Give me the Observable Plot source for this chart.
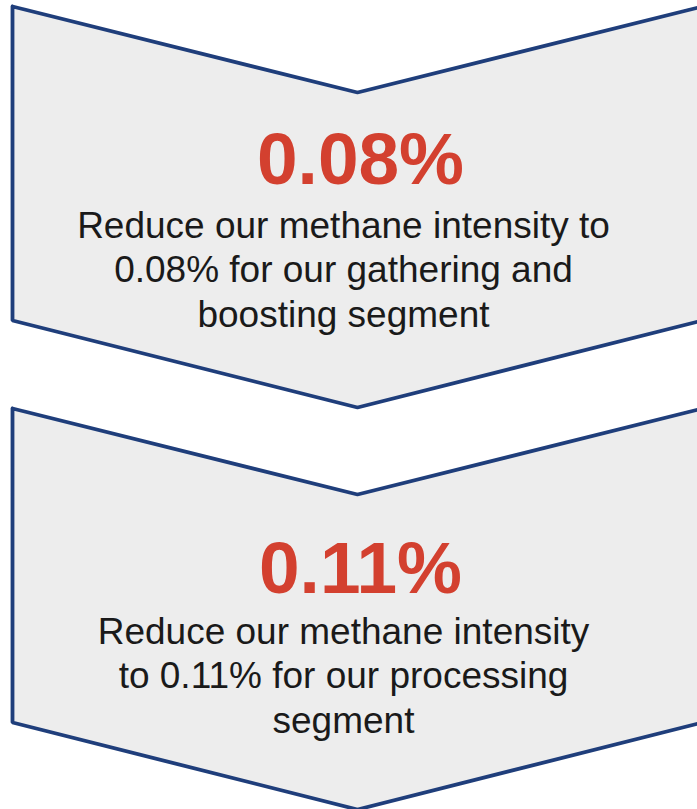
<!DOCTYPE html>
<html>
<head>
<meta charset="utf-8">
<script src="https://cdn.jsdelivr.net/npm/d3@7"></script>
<script src="https://cdn.jsdelivr.net/npm/@observablehq/plot@0.6"></script>
<style>
  html, body { margin: 0; padding: 0; background: #ffffff; }
  #chart svg { display: block; }
</style>
</head>
<body>
<div id="chart"></div>
<script>
// ---- data ----
const targets = ["0.08%", "0.11%"];
const descriptions = [
  ["Reduce our methane intensity to", "0.08% for our gathering and", "boosting segment"],
  ["Reduce our methane intensity", "to 0.11% for our processing", "segment"]
];

// ---- layout ----
const W = 697, H = 809;
const panelTop = [6, 408];       // top-left corner of each chevron
const numberBaseline = [177, 184]; // offset from panel top
const bodyBaseline = [231, 235];   // first body line offset from panel top
const lineGap = 44.5;
const left = 12, right = 702, mid = (left + right) / 2, notch = 86, side = 314;

const outline = targets.flatMap((t, i) => {
  const y0 = panelTop[i];
  const pts = [
    [left, y0], [mid, y0 + notch], [right, y0],
    [right, y0 + side], [mid, y0 + side + notch + 1], [left, y0 + side], [left, y0]
  ];
  return pts.map(([x, y]) => ({panel: i, x, y}));
});

const numbers = targets.map((t, i) => ({text: t, x: 360, y: panelTop[i] + numberBaseline[i]}));
const body = descriptions.flatMap((lines, i) =>
  lines.map((text, j) => ({text, x: 343, y: panelTop[i] + bodyBaseline[i] + j * lineGap}))
);

const chart = Plot.plot({
  width: W,
  height: H,
  margin: 0,
  style: {fontFamily: "'Liberation Sans', Arial, sans-serif", background: "#ffffff", overflow: "hidden"},
  x: {domain: [0, W], range: [0, W], axis: null},
  y: {domain: [0, H], range: [0, H], axis: null},
  marks: [
    Plot.line(outline, {x: "x", y: "y", z: "panel", fill: "#ededed", stroke: "#1f3e7b", strokeWidth: 3.8, strokeLinejoin: "miter", curve: "linear"}),
    Plot.text(numbers, {x: "x", y: "y", text: "text", fill: "#d3402f", fontSize: 73, fontWeight: "bold", lineAnchor: "bottom", textAnchor: "middle"}),
    Plot.text(body, {x: "x", y: "y", text: "text", fill: "#1a1a1a", fontSize: 37, lineAnchor: "bottom", textAnchor: "middle"})
  ]
});
document.getElementById("chart").appendChild(chart);
</script>
</body>
</html>
